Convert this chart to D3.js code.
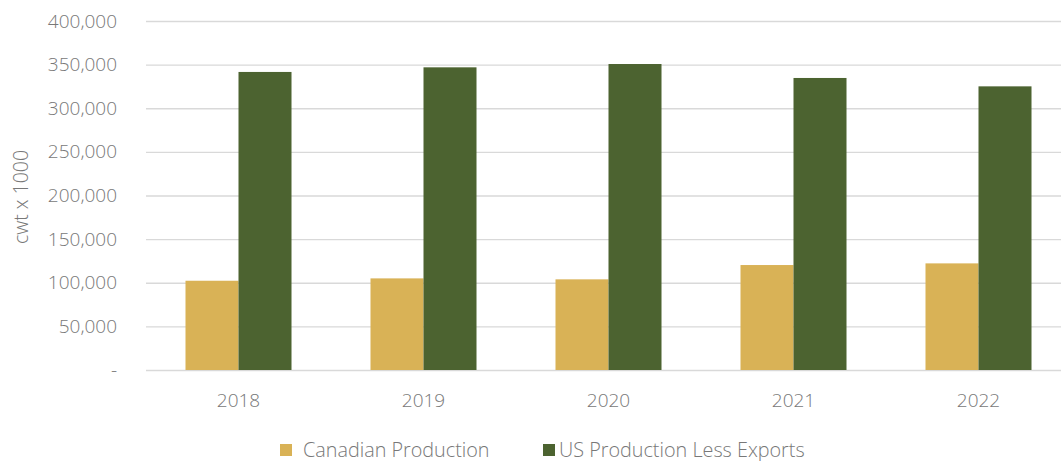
<!DOCTYPE html>
<html>
<head>
<meta charset="utf-8">
<script src="https://cdn.jsdelivr.net/npm/d3@7"></script>
<style>
  body { margin: 0; background: #fff; }
  svg text { font-family: "Open Sans", sans-serif; font-weight: 300; fill: #787878; }
  .grid line { stroke: #d9d9d9; stroke-width: 1.3; }
  .grid .domain { display: none; }
  .axis text { font-size: 19px; }
  .axis .domain, .axis line { display: none; }
  .legend text { font-size: 19.8px; }
</style>
</head>
<body>
<div class="chart"></div>
<script>
// Chart data
var years = ["2018", "2019", "2020", "2021", "2022"];
var canadian = [102300, 105000, 103900, 120300, 122200];
var usLessExports = [341600, 346900, 350700, 334700, 325100];
var seriesNames = ["Canadian Production", "US Production Less Exports"];
var seriesColors = ["#d9b256", "#4c6330"];
var yTicks = [0, 50000, 100000, 150000, 200000, 250000, 300000, 350000, 400000];

var w = 1061;
var h = 461;

var margin = { left: 146, right: 1071, top: 21, bottom: 370 };

// Build one row per year
var data = years.map(function (y, i) {
	return { year: y, values: [canadian[i], usLessExports[i]] };
});

var xScale = d3.scaleBand()
	.domain(years)
	.range([margin.left, margin.right])
	.paddingInner(0.427)
	.paddingOuter(0.2135);

var xInner = d3.scaleBand()
	.domain([0, 1])
	.range([0, xScale.bandwidth()]);

var yScale = d3.scaleLinear()
	.domain([0, 400000])
	.range([margin.bottom, margin.top]);

var svg = d3.select(".chart")
	.append("svg")
	.attr("width", w)
	.attr("height", h);

// Gridlines
svg.append("g")
	.attr("class", "grid")
	.attr("transform", "translate(" + margin.left + ",0)")
	.call(d3.axisLeft(yScale)
		.tickValues(yTicks)
		.tickSize(-(margin.right - margin.left))
		.tickFormat(""));

// Y axis labels
svg.append("g")
	.attr("class", "axis")
	.attr("transform", "translate(117,0)")
	.call(d3.axisLeft(yScale)
		.tickValues(yTicks)
		.tickSize(0)
		.tickPadding(0)
		.tickFormat(function (d) { return d == 0 ? "-" : d3.format(",")(d); }));

// Y axis title
svg.append("text")
	.attr("transform", "translate(28,197) rotate(-90)")
	.attr("text-anchor", "middle")
	.style("font-size", "19.5px")
	.text("cwt x 1000");

// X axis labels
svg.append("g")
	.attr("class", "axis")
	.attr("transform", "translate(0," + margin.bottom + ")")
	.call(d3.axisBottom(xScale)
		.tickSize(0)
		.tickPadding(24));

// Bars
var groups = svg.selectAll("g.year")
	.data(data)
	.enter()
	.append("g")
	.attr("class", "year")
	.attr("transform", function (d) { return "translate(" + xScale(d.year) + ",0)"; });

groups.selectAll("rect")
	.data(function (d) { return d.values; })
	.enter()
	.append("rect")
	.attr("x", function (d, i) { return xInner(i); })
	.attr("y", function (d) { return yScale(d); })
	.attr("width", xInner.bandwidth())
	.attr("height", function (d) { return yScale(0) - yScale(d); })
	.attr("fill", function (d, i) { return seriesColors[i]; });

// Legend
var legendX = [280, 543];
var legend = svg.append("g")
	.attr("class", "legend")
	.selectAll("g")
	.data(seriesNames)
	.enter()
	.append("g")
	.attr("transform", function (d, i) { return "translate(" + legendX[i] + ",444)"; });

legend.append("rect")
	.attr("width", 12)
	.attr("height", 12)
	.attr("fill", function (d, i) { return seriesColors[i]; });

legend.append("text")
	.attr("x", function (d, i) { return i == 0 ? 23 : 16; })
	.attr("y", 12.5)
	.text(function (d) { return d; });
</script>
</body>
</html>
